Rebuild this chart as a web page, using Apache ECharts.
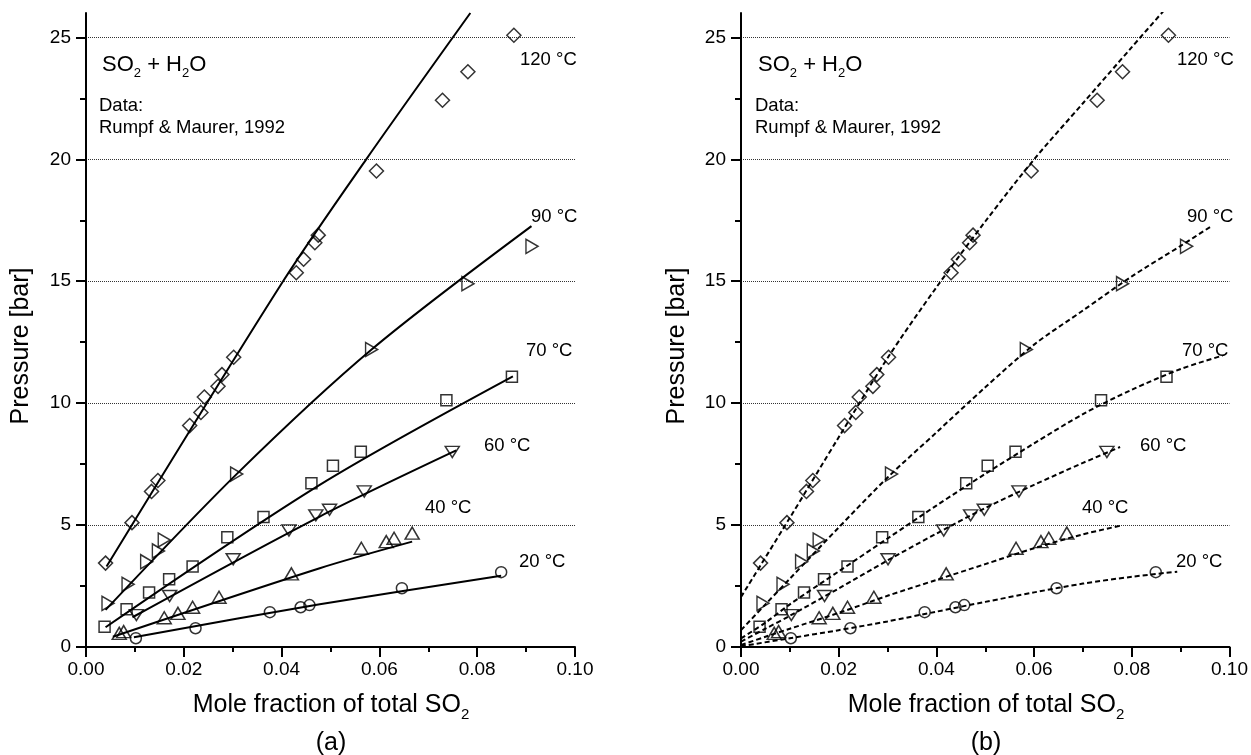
<!DOCTYPE html>
<html>
<head>
<meta charset="utf-8">
<script src="https://cdn.jsdelivr.net/npm/echarts@6/dist/echarts.min.js"></script>
<style>
html, body { margin: 0; padding: 0; background: #fff; }
#chart { width: 1251px; height: 755px; }
</style>
</head>
<body>
<div id="chart"></div>
<script>
// tick values
var yMajor = [0, 5, 10, 15, 20, 25];
var yMinor = [2.5, 7.5, 12.5, 17.5, 22.5];

// measured points (mole fraction, pressure bar)
var pts120 = [[0.0040,3.44],[0.0094,5.10],[0.0134,6.38],[0.0147,6.83],[0.0212,9.08],[0.0235,9.62],[0.0242,10.25],[0.0270,10.69],[0.0278,11.17],[0.0302,11.88],[0.0430,15.35],[0.0445,15.90],[0.0468,16.58],[0.0475,16.89],[0.0594,19.52],[0.0729,22.42],[0.0781,23.59],[0.0875,25.09]];
var pts90 = [[0.0045,1.79],[0.0086,2.57],[0.0124,3.50],[0.0148,3.94],[0.0160,4.39],[0.0308,7.09],[0.0584,12.20],[0.0781,14.90],[0.0912,16.43]];
var pts70 = [[0.0038,0.83],[0.0083,1.55],[0.0129,2.23],[0.0170,2.78],[0.0218,3.30],[0.0289,4.50],[0.0363,5.33],[0.0461,6.72],[0.0505,7.43],[0.0562,8.01],[0.0737,10.12],[0.0871,11.08]];
var pts60 = [[0.0103,1.31],[0.0171,2.09],[0.0301,3.60],[0.0415,4.78],[0.0470,5.40],[0.0498,5.63],[0.0569,6.38],[0.0749,8.00]];
var pts40 = [[0.0068,0.56],[0.0077,0.63],[0.0160,1.20],[0.0188,1.38],[0.0218,1.63],[0.0272,2.04],[0.0420,3.00],[0.0563,4.05],[0.0614,4.32],[0.0630,4.46],[0.0667,4.67]];
var pts20 = [[0.0102,0.36],[0.0224,0.77],[0.0376,1.43],[0.0439,1.63],[0.0457,1.72],[0.0646,2.41],[0.0849,3.07]];

// panel (a): solid correlation lines
var fit120 = [[0.0042,3.30],[0.0403,15.0],[0.0573,20.0],[0.0786,26.0]];
var fit90 = [[0.0040,1.52],[0.0308,7.09],[0.0584,12.2],[0.0911,17.26]];
var fit70 = [[0.0040,0.81],[0.0478,6.65],[0.0873,11.10]];
var fit60 = [[0.0095,1.22],[0.0478,5.35],[0.0757,8.06]];
var fit40 = [[0.0055,0.42],[0.0478,3.23],[0.0667,4.32]];
var fit20 = [[0.0098,0.40],[0.0478,1.75],[0.0849,2.92]];

// panel (b): dashed model curves
var dash120 = [[0,2.05],[0.01,5.3],[0.02,8.6],[0.03,11.85],[0.04,14.75],[0.05,17.45],[0.06,20.0],[0.07,22.3],[0.08,24.6],[0.087,26.2]];
var dash90 = [[0,0.69],[0.005,1.75],[0.01,2.8],[0.02,4.9],[0.03,6.95],[0.04,8.8],[0.05,10.65],[0.06,12.4],[0.07,13.8],[0.08,15.2],[0.09,16.45],[0.0963,17.26]];
var dash70 = [[0,0.35],[0.005,1.0],[0.01,1.75],[0.02,3.1],[0.03,4.45],[0.04,5.8],[0.05,7.1],[0.06,8.35],[0.07,9.55],[0.08,10.55],[0.09,11.4],[0.0986,11.95]];
var dash60 = [[0,0.22],[0.005,0.75],[0.01,1.28],[0.02,2.4],[0.03,3.55],[0.04,4.65],[0.05,5.7],[0.06,6.65],[0.07,7.55],[0.0776,8.2]];
var dash40 = [[0,0.08],[0.005,0.42],[0.01,0.75],[0.02,1.4],[0.03,2.1],[0.04,2.75],[0.05,3.4],[0.06,4.05],[0.07,4.62],[0.0776,4.97]];
var dash20 = [[0,0.03],[0.01,0.36],[0.02,0.69],[0.03,1.05],[0.04,1.45],[0.05,1.85],[0.06,2.24],[0.07,2.6],[0.08,2.88],[0.0893,3.09]];

var FONT = "'Liberation Sans', Arial, sans-serif";

// marker look per temperature
var markers = [
    { data: pts120, symbol: 'diamond', size: 14, rot: 0 },
    { data: pts90, symbol: 'triangle', size: [14, 12], rot: -90 },
    { data: pts70, symbol: 'rect', size: 11, rot: 0 },
    { data: pts60, symbol: 'triangle', size: [14, 11], rot: 180 },
    { data: pts40, symbol: 'triangle', size: [14, 12], rot: 0 },
    { data: pts20, symbol: 'circle', size: 11, rot: 0 }
];

function xAxisFor(g) {
    return {
        gridIndex: g, type: 'value', min: 0, max: 0.1, interval: 0.02,
        axisLine: { show: true, onZero: false, lineStyle: { color: '#000', width: 2 } },
        axisTick: { show: true, inside: false, length: 10, lineStyle: { color: '#000', width: 2 } },
        minorTick: { show: true, splitNumber: 2, length: 5, lineStyle: { color: '#000', width: 2 } },
        axisLabel: { color: '#000', fontSize: 19, fontFamily: FONT, margin: 13,
            formatter: function (v) { return v.toFixed(2); } },
        splitLine: { show: false }
    };
}
function yAxesFor(g) {
    return [{
        gridIndex: g, type: 'value', min: 0, max: 26, interval: 5, position: 'left',
        axisLine: { show: true, onZero: false, lineStyle: { color: '#000', width: 2 } },
        axisTick: { show: true, inside: false, length: 10, customValues: yMajor, lineStyle: { color: '#000', width: 2 } },
        axisLabel: { customValues: yMajor, color: '#000', fontSize: 19, fontFamily: FONT, margin: 15 },
        splitLine: { show: true, lineStyle: { color: '#333', type: 'dotted', width: 1 } }
    }, {
        gridIndex: g, type: 'value', min: 0, max: 26, position: 'left',
        axisLine: { show: false },
        axisTick: { show: true, inside: false, length: 6, customValues: yMinor, lineStyle: { color: '#000', width: 2 } },
        axisLabel: { show: false },
        splitLine: { show: false }
    }];
}

var series = [];
function addCurves(list, xi, yi, dashed) {
    list.forEach(function (d) {
        series.push({
            type: 'line', xAxisIndex: xi, yAxisIndex: yi, data: d,
            smooth: 0.3, symbol: 'none', z: 2, clip: true,
            lineStyle: { color: '#000', width: 2, type: dashed ? [5, 3] : 'solid' }
        });
    });
}
function addMarkers(xi, yi) {
    markers.forEach(function (m) {
        series.push({
            type: 'scatter', xAxisIndex: xi, yAxisIndex: yi, data: m.data,
            symbol: m.symbol, symbolSize: m.size, symbolRotate: m.rot, z: 3,
            itemStyle: { color: 'rgba(0,0,0,0)', borderColor: '#000', borderWidth: 1.5 }
        });
    });
}
addCurves([fit120, fit90, fit70, fit60, fit40, fit20], 0, 0, false);
addMarkers(0, 0);
addCurves([dash120, dash90, dash70, dash60, dash40, dash20], 1, 2, true);
addMarkers(1, 2);

// annotation texts
var tempNames = ['120 °C', '90 °C', '70 °C', '60 °C', '40 °C', '20 °C'];
var tempPosA = [[520, 60], [531, 217], [526, 351], [484, 446], [425, 508], [519, 562]];
var tempPosB = [[1177, 60], [1187, 217], [1182, 351], [1140, 446], [1082, 508], [1176, 562]];

var graphics = [];
function plain(x, y, text, size, extra) {
    var el = { type: 'text', x: x, y: y, z: 10,
        style: { text: text, fill: '#000', fontSize: size, fontFamily: FONT, align: 'left', verticalAlign: 'middle' } };
    if (extra) { for (var k in extra) el[k] = extra[k]; }
    return el;
}
function subText(x, y, text, size, subSize, align) {
    return { type: 'text', x: x, y: y, z: 10,
        style: { text: text, fill: '#000', align: align, verticalAlign: 'top',
            rich: {
                n: { fontSize: size, fontFamily: FONT, lineHeight: size + 4, verticalAlign: 'top', padding: [0, 0, 8, 0], fill: '#000' },
                s: { fontSize: subSize, fontFamily: FONT, lineHeight: subSize, verticalAlign: 'bottom', fill: '#000' }
            } } };
}
tempNames.forEach(function (t, i) {
    graphics.push(plain(tempPosA[i][0], tempPosA[i][1], t, 18.5));
    graphics.push(plain(tempPosB[i][0], tempPosB[i][1], t, 18.5));
});
[[102, 0], [758, 0]].forEach(function (p) {
    graphics.push(subText(p[0], 54, '{n|SO}{s|2}{n| + H}{s|2}{n|O}', 22, 13, 'left'));
    graphics.push(plain(p[0] - 3, 106, 'Data:', 18.5));
    graphics.push(plain(p[0] - 3, 128, 'Rumpf & Maurer, 1992', 18.5));
});
[[331, '(a)', 21], [986, '(b)', 677]].forEach(function (p) {
    graphics.push(subText(p[0], 693, '{n|Mole fraction of total SO}{s|2}', 25, 15, 'center'));
    graphics.push(plain(p[0], 743, p[1], 25, null));
    graphics[graphics.length - 1].style.align = 'center';
    graphics.push(plain(p[2], 346, 'Pressure [bar]', 25, { rotation: Math.PI / 2 }));
    graphics[graphics.length - 1].style.align = 'center';
});

var chart = echarts.init(document.getElementById('chart'));
chart.setOption({
    animation: false,
    backgroundColor: '#fff',
    textStyle: { fontFamily: FONT },
    grid: [
        { left: 86, top: 13, width: 489, height: 634 },
        { left: 741, top: 13, width: 491, height: 634 }
    ],
    xAxis: [xAxisFor(0), xAxisFor(1)],
    yAxis: yAxesFor(0).concat(yAxesFor(1)),
    series: series,
    graphic: graphics
});
</script>
</body>
</html>
